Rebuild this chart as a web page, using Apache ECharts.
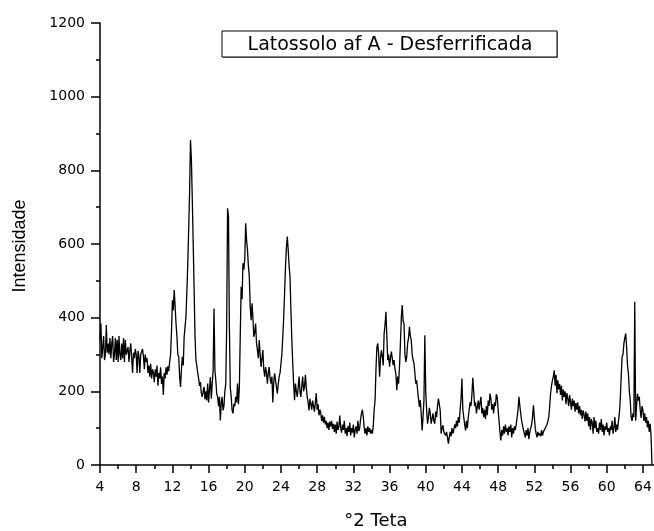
<!DOCTYPE html>
<html>
<head>
<meta charset="utf-8">
<script src="https://cdn.jsdelivr.net/npm/echarts@6/dist/echarts.min.js"></script>
<style>
html,body{margin:0;padding:0;background:#fff;}
#chart{width:654px;height:531px;}
</style>
</head>
<body>
<div id="chart"></div>
<script>
// X-ray diffraction scan: intensity read every 0.1 °2θ from 4.0 to 65.0
const thetaStart = 4.0;
const thetaStep = 0.1;
const intensity = [
  340, 385, 290, 320, 350, 285, 300, 380, 305, 330, // 4
  300, 345, 290, 330, 350, 280, 300, 345, 285, 340, // 5
  280, 350, 300, 285, 330, 290, 345, 280, 340, 300, // 6
  295, 320, 280, 310, 330, 290, 250, 305, 290, 315, // 7
  300, 250, 310, 295, 250, 300, 305, 315, 295, 260, // 8
  300, 280, 290, 250, 270, 240, 275, 235, 260, 250, // 9
  225, 260, 240, 270, 215, 250, 235, 265, 220, 240, // 10
  190, 250, 235, 265, 245, 268, 255, 280, 300, 360, // 11
  447, 420, 475, 430, 385, 350, 300, 294, 240, 212, // 12
  260, 294, 270, 348, 350, 402, 470, 548, 640, 740, // 13
  882, 830, 720, 600, 480, 350, 285, 270, 250, 235, // 14
  215, 225, 195, 185, 200, 212, 178, 200, 175, 221, // 15
  170, 205, 239, 180, 221, 255, 425, 257, 230, 194, // 16
  185, 160, 185, 121, 170, 185, 148, 160, 200, 221, // 17
  375, 697, 674, 375, 210, 185, 148, 140, 166, 160, // 18
  185, 170, 221, 165, 210, 350, 484, 450, 548, 530, // 19
  560, 656, 610, 584, 540, 511, 430, 393, 439, 400, // 20
  348, 360, 384, 330, 312, 290, 339, 300, 266, 290, // 21
  312, 260, 240, 266, 250, 221, 250, 266, 235, 221, // 22
  240, 170, 225, 249, 230, 212, 194, 220, 240, 250, // 23
  276, 300, 348, 400, 466, 540, 590, 620, 584, 540, // 24
  511, 421, 340, 276, 220, 176, 221, 200, 185, 210, // 25
  240, 200, 185, 215, 240, 200, 212, 245, 210, 185, // 26
  170, 148, 180, 166, 150, 175, 160, 145, 170, 195, // 27
  150, 165, 135, 150, 140, 120, 135, 115, 131, 110, // 28
  120, 100, 115,  95, 118, 105, 120,  98, 112,  90, // 29
  110,  85, 118,  95, 105, 134, 100,  88, 110,  95, // 30
  120,  85, 100,  78, 105,  90, 115,  80, 100,  88, // 31
  110,  75,  95, 105,  85, 120,  92, 100, 125, 140, // 32
  150, 130, 100,  85, 100,  80, 105,  90, 100,  85, // 33
   95,  85, 105, 150, 175, 260, 320, 330, 300, 240, // 34
  290, 312, 294, 270, 357, 380, 416, 350, 285, 300, // 35
  267, 290, 308, 290, 271, 285, 260, 248, 203, 240, // 36
  221, 267, 330, 400, 434, 390, 384, 300, 280, 294, // 37
  330, 345, 375, 350, 339, 300, 285, 276, 250, 221, // 38
  230, 203, 180, 158, 176, 140,  94, 130, 176, 352, // 39
  200, 148, 112, 130, 155, 140, 112, 125, 140, 120, // 40
  112, 145, 130, 160, 180, 165, 148,  85, 100, 108, // 41
   90,  94,  80,  90,  76,  58,  75,  90,  78, 100, // 42
   85,  95, 110, 100, 120, 105, 130, 115, 150, 180, // 43
  235, 150, 130, 110,  94, 120, 100, 130, 150, 170, // 44
  160, 190, 237, 200, 160, 170, 140, 158, 175, 150, // 45
  170, 185, 140, 155, 130, 150, 125, 160, 135, 175, // 46
  160, 194, 180, 150, 165, 140, 170, 160, 192, 185, // 47
  150, 120,  90,  67,  95,  80, 105,  85, 110,  90, // 48
  100,  80, 105,  90, 110,  75, 100,  85, 105,  95, // 49
  110, 130, 150, 185, 160, 140, 120, 121,  95,  85, // 50
   75,  95,  80, 100,  70,  90,  85, 110, 130, 162, // 51
  130, 100,  85,  75,  90,  80,  86,  78,  95,  80, // 52
   90,  85, 100,  95, 110, 120, 130, 160, 194, 215, // 53
  230, 240, 257, 215, 245, 195, 230, 205, 220, 190, // 54
  215, 175, 205, 185, 200, 165, 195, 180, 160, 190, // 55
  170, 150, 180, 160, 175, 145, 168, 150, 170, 140, // 56
  160, 135, 150, 125, 148, 137, 118, 145, 120, 140, // 57
  105, 130,  95, 125, 115,  85, 130, 100, 120,  90, // 58
  100,  85, 115,  95, 125,  90, 110,  80, 105,  95, // 59
  115,  90, 100,  80, 105,  95, 120,  85, 100, 130, // 60
   90, 110,  95, 120, 140, 180, 240, 294, 300, 330, // 61
  345, 357, 320, 270, 249, 200, 176, 130, 120, 140, // 62
  130, 443, 120, 160, 194, 175, 185, 150, 128, 160, // 63
  150, 120, 140, 115, 130, 102, 120,  90, 112,  80, // 64
    0                                               // 65
];
const xTicks = { min: 4, max: 66, step: 4 };
const yTicks = { min: 0, max: 1200, step: 200 };
const titleText = 'Latossolo af A - Desferrificada';
const xTitle = '°2 Teta';
const yTitle = 'Intensidade';

const scan = intensity.map((v, i) => [+(thetaStart + i * thetaStep).toFixed(1), v]);

const chart = echarts.init(document.getElementById('chart'), null, { renderer: 'canvas' });
const labelFont = { fontFamily: 'DejaVu Sans', fontSize: 14, color: '#000', formatter: v => String(v) };
chart.setOption({
  animation: false,
  backgroundColor: '#fff',
  grid: { left: 100, width: 561, top: 23, bottom: 66, containLabel: false, outerBoundsMode: 'none' },
  xAxis: {
    type: 'value',
    min: xTicks.min, max: xTicks.max, interval: xTicks.step,
    axisLine: { show: true, onZero: false, lineStyle: { color: '#000', width: 1.5 } },
    axisTick: { show: true, inside: false, length: 8, lineStyle: { color: '#000', width: 1.5 } },
    minorTick: { show: true, splitNumber: 2, length: 4, lineStyle: { color: '#000', width: 1.5 } },
    splitLine: { show: false },
    axisLabel: Object.assign({ margin: 15, showMaxLabel: false }, labelFont)
  },
  yAxis: {
    type: 'value',
    min: yTicks.min, max: yTicks.max, interval: yTicks.step,
    axisLine: { show: true, lineStyle: { color: '#000', width: 1.5 } },
    axisTick: { show: true, inside: false, length: 9, lineStyle: { color: '#000', width: 1.5 } },
    minorTick: { show: true, splitNumber: 2, length: 4, lineStyle: { color: '#000', width: 1.5 } },
    splitLine: { show: false },
    axisLabel: Object.assign({ margin: 15 }, labelFont)
  },
  series: [{
    type: 'line',
    data: scan,
    showSymbol: false,
    symbol: 'none',
    clip: true,
    lineStyle: { color: '#000', width: 1.3 }
  }],
  graphic: [
    { type: 'rect', shape: { x: 223, y: 32, width: 335, height: 26 }, style: { fill: '#888' }, z: 10 },
    { type: 'rect', shape: { x: 222, y: 31, width: 335, height: 26 }, style: { fill: '#fff', stroke: '#000', lineWidth: 1 }, z: 11 },
    { type: 'text', x: 390, y: 45, z: 12, style: { text: titleText, fill: '#000', font: '19px "DejaVu Sans"', textAlign: 'center', textVerticalAlign: 'middle' } },
    { type: 'text', x: 376, y: 521, z: 12, style: { text: xTitle, fill: '#000', font: '18px "DejaVu Sans"', textAlign: 'center', textVerticalAlign: 'middle' } },
    { type: 'text', x: 20, y: 246, rotation: Math.PI / 2, z: 12, style: { text: yTitle, fill: '#000', font: '18px "Liberation Sans"', textAlign: 'center', textVerticalAlign: 'middle' } }
  ]
});
</script>
</body>
</html>
